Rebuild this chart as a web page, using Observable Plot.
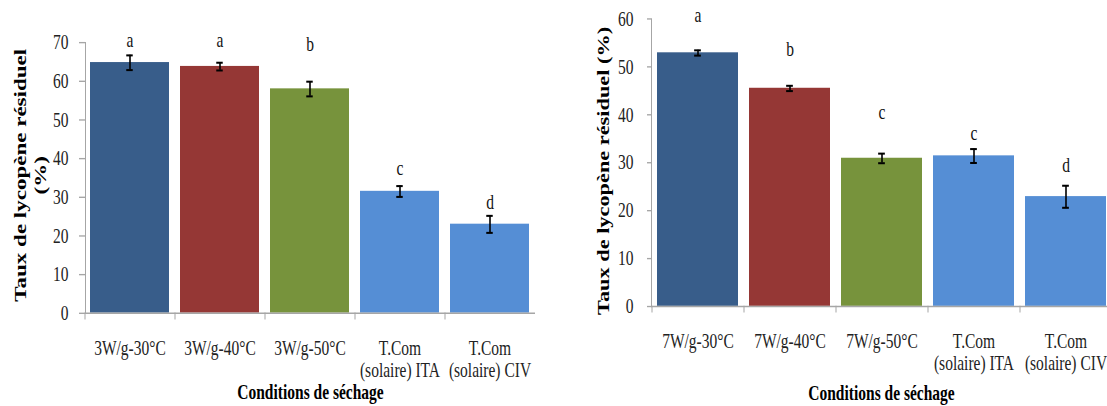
<!DOCTYPE html>
<html><head><meta charset="utf-8">
<script src="https://cdn.jsdelivr.net/npm/d3@7"></script>
<script src="https://cdn.jsdelivr.net/npm/@observablehq/plot@0.6"></script>
<style>
html,body{margin:0;padding:0;background:#fff;overflow:hidden;}
#wrap{display:flex;width:1111px;height:406px;}
#wrap svg{display:block;flex:none;}
</style></head><body><div id="wrap"></div>
<script>
// ---- data ----
const leftCategories = ["3W/g-30°C","3W/g-40°C","3W/g-50°C","T.Com\n(solaire) ITA","T.Com\n(solaire) CIV"];
const leftValues = [64.8, 63.8, 58.0, 31.5, 23.0];
const leftErrors = [1.9, 1.0, 1.9, 1.4, 2.2];
const leftLetters = ["a","a","b","c","d"];
const leftLetterPos = [70.6, 70.6, 69.7, 37.4, 28.8];
const leftTicks = [0,10,20,30,40,50,60,70];

const rightCategories = ["7W/g-30°C","7W/g-40°C","7W/g-50°C","T.Com\n(solaire) ITA","T.Com\n(solaire) CIV"];
const rightValues = [52.9, 45.5, 30.9, 31.4, 22.9];
const rightErrors = [0.55, 0.55, 1.0, 1.45, 2.3];
const rightLetters = ["a","b","c","c","d"];
const rightLetterPos = [60.7, 53.7, 40.6, 36.1, 29.4];
const rightTicks = [0,10,20,30,40,50,60];

const barColors = ["#385D8A","#953735","#77933C","#558ED5","#558ED5"];
const yTitleLeft = "Taux de lycopène résiduel\n(%)";
const yTitleRight = "Taux de lycopène résiduel (%)";
const xTitle = "Conditions de séchage";

// ---- drawing ----
const H = 300, FINAL_H = 406;
const gray = "#A6A6A6";
const pInner = 0.122, pOuter = 0.061;

function panel(cfg) {
  const data = cfg.cats.map((c, i) => ({
    cat: c, v: cfg.values[i], e: cfg.errors[i],
    letter: cfg.letters[i], lp: cfg.letterPos[i], color: barColors[i]
  }));
  const step = (cfg.width - cfg.marginLeft - cfg.marginRight) / cfg.cats.length;
  const bw = step * (1 - pInner);
  const capInset = (bw - 6.5) / 2;
  const svg = Plot.plot({
    width: cfg.width, height: H,
    marginLeft: cfg.marginLeft, marginRight: cfg.marginRight,
    marginTop: cfg.marginTop, marginBottom: cfg.marginBottom,
    style: {fontFamily: "'Liberation Serif', serif", fontSize: "15.5px", color: "#111", background: "white"},
    x: {domain: cfg.cats, paddingInner: pInner, paddingOuter: pOuter, label: null},
    y: {domain: cfg.yDomain, label: null},
    marks: [
      Plot.barY(data, {x: "cat", y: "v", fill: "color"}),
      Plot.ruleY([0], {stroke: gray, strokeWidth: 1}),
      Plot.frame({anchor: "left", stroke: gray}),
      Plot.axisY({ticks: cfg.ticks, label: null, tickSize: cfg.tickSize, tickPadding: cfg.tickPadding, stroke: gray, fill: "#222", fontSize: 15.5}),
      Plot.axisX({label: null, tickSize: 5, dx: -step / 2, tickFormat: () => "", stroke: gray}),
      Plot.text(data, {x: "cat", text: "cat", frameAnchor: "bottom", dy: 19.5, lineAnchor: "top", lineHeight: 1.03, fontSize: 15.5, fill: "#222"}),
      Plot.ruleX(data, {x: "cat", y1: d => d.v - d.e, y2: d => d.v + d.e, stroke: "#000", strokeWidth: 1.6}),
      Plot.tickY(data, {x: "cat", y: d => d.v + d.e, stroke: "#000", strokeWidth: 1.5, insetLeft: capInset, insetRight: capInset}),
      Plot.tickY(data, {x: "cat", y: d => d.v - d.e, stroke: "#000", strokeWidth: 1.5, insetLeft: capInset, insetRight: capInset}),
      Plot.text(data, {x: "cat", y: "lp", text: "letter", fontSize: 15.5, lineAnchor: "middle", fill: "#111"}),
      Plot.text([cfg.yTitle], {frameAnchor: "left", textAnchor: "middle", rotate: -90, dx: cfg.yTitleDx, dy: cfg.yTitleDy, lineAnchor: "middle", lineHeight: 1.2, fontSize: cfg.yTitleSize, fontWeight: "bold", fill: "#000"}),
      Plot.text([xTitle], {frameAnchor: "bottom", textAnchor: "middle", dy: cfg.xTitleDy, lineAnchor: "middle", fontSize: 15.5, fontWeight: "bold", fill: "#000"})
    ]
  });
  svg.setAttribute("preserveAspectRatio", "none");
  svg.setAttribute("height", FINAL_H);
  svg.style.height = FINAL_H + "px";
  svg.style.width = cfg.width + "px";
  svg.style.maxWidth = "none";
  return svg;
}

const wrap = document.getElementById("wrap");
wrap.appendChild(panel({
  width: 553, marginLeft: 85, marginRight: 18, marginTop: 31, marginBottom: 69,
  cats: leftCategories, values: leftValues, errors: leftErrors,
  letters: leftLetters, letterPos: leftLetterPos, ticks: leftTicks, yDomain: [0, 70],
  tickSize: 6, tickPadding: 11,
  yTitle: yTitleLeft, yTitleDx: -56, yTitleDy: -2, yTitleSize: 17, xTitleDy: 58
}));
wrap.appendChild(panel({
  width: 558, marginLeft: 98, marginRight: 0, marginTop: 13.5, marginBottom: 74,
  cats: rightCategories, values: rightValues, errors: rightErrors,
  letters: rightLetters, letterPos: rightLetterPos, ticks: rightTicks, yDomain: [0, 60],
  tickSize: 4, tickPadding: 14,
  yTitle: yTitleRight, yTitleDx: -48.5, yTitleDy: 6, yTitleSize: 16.5, xTitleDy: 64
}));
</script></body></html>
